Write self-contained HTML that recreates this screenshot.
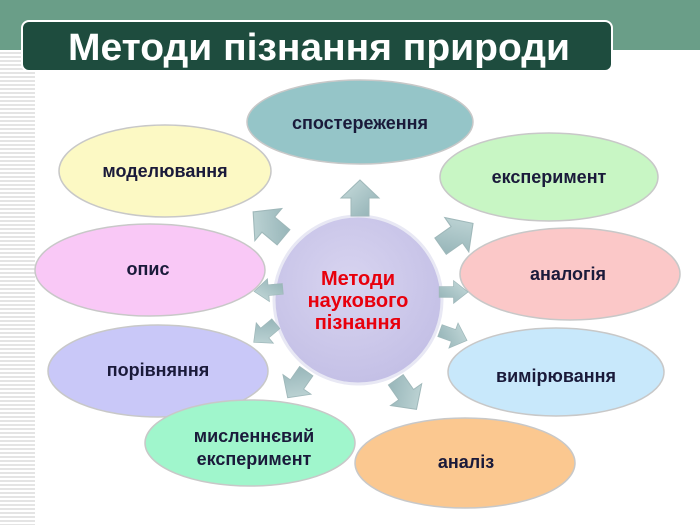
<!DOCTYPE html>
<html><head><meta charset="utf-8"><style>
html,body{margin:0;padding:0;background:#fff;}
svg{display:block;font-family:"Liberation Sans",sans-serif;font-weight:bold;}
</style></head><body>
<svg width="700" height="525" viewBox="0 0 700 525" xmlns="http://www.w3.org/2000/svg">
<defs>
<pattern id="st" width="35" height="4" patternUnits="userSpaceOnUse"><rect width="35" height="2" fill="#e4e4e4"/></pattern>
<linearGradient id="ag" x1="0" y1="0" x2="1" y2="1"><stop offset="0" stop-color="#c8dcdc"/><stop offset="1" stop-color="#90b0b4"/></linearGradient>
<radialGradient id="cg" cx="0.45" cy="0.4" r="0.6"><stop offset="0" stop-color="#d8d4f0"/><stop offset="1" stop-color="#c4c0e6"/></radialGradient>
<g id="ar"><polygon points="0,-20 19,-2 9,-2 9,16 -9,16 -9,-2 -19,-2" fill="url(#ag)" stroke="#9fb8ba" stroke-width="1"/></g>
</defs>
<rect x="0" y="0" width="700" height="50" fill="#6a9e88"/>
<rect x="0" y="50" width="35" height="475" fill="url(#st)"/>
<rect x="22" y="21" width="590" height="50" rx="7" fill="#1e4c3e" stroke="#ffffff" stroke-width="2"/>
<text x="68" y="60" font-size="38" fill="#fff" textLength="502" lengthAdjust="spacingAndGlyphs">Методи пізнання природи</text>

<g stroke="#c8c8c8" stroke-width="1.5">
<ellipse cx="360" cy="122" rx="113" ry="42" fill="#95c5c8"/>
<ellipse cx="165" cy="171" rx="106" ry="46" fill="#fcf9c4"/>
<ellipse cx="549" cy="177" rx="109" ry="44" fill="#c8f6c4"/>
<ellipse cx="150" cy="270" rx="115" ry="46" fill="#f9c8f6"/>
<ellipse cx="570" cy="274" rx="110" ry="46" fill="#fbc8c8"/>
<ellipse cx="158" cy="371" rx="110" ry="46" fill="#c9c8f8"/>
<ellipse cx="556" cy="372" rx="108" ry="44" fill="#c8e8fb"/>
<ellipse cx="250" cy="443" rx="105" ry="43" fill="#a0f6cc"/>
<ellipse cx="465" cy="463" rx="110" ry="45" fill="#fbc890"/>
</g>
<circle cx="358" cy="300" r="84" fill="url(#cg)" stroke="#e8e8f4" stroke-width="3"/>

<use href="#ar" transform="translate(360,200)"/>
<use href="#ar" transform="translate(270,226) rotate(-50) scale(1.1)"/>
<use href="#ar" transform="translate(270,290) rotate(-95) scale(0.6,0.8)"/>
<use href="#ar" transform="translate(266,332) rotate(-130) scale(0.7,0.8)"/>
<use href="#ar" transform="translate(298,383) rotate(-145) scale(0.9)"/>
<use href="#ar" transform="translate(405,393) rotate(145) scale(1)"/>
<use href="#ar" transform="translate(452,335) rotate(110) scale(0.7,0.8)"/>
<use href="#ar" transform="translate(452,292) rotate(90) scale(0.6,0.8)"/>
<use href="#ar" transform="translate(455,236) rotate(55) scale(1.1)"/>

<g font-size="18" fill="#1a1a3a" text-anchor="middle">
<text x="360" y="129">спостереження</text>
<text x="165" y="177">моделювання</text>
<text x="549" y="183">експеримент</text>
<text x="148" y="275">опис</text>
<text x="568" y="280">аналогія</text>
<text x="158" y="376">порівняння</text>
<text x="556" y="382">вимірювання</text>
<text x="254" y="442">мисленнєвий</text>
<text x="254" y="465">експеримент</text>
<text x="466" y="468">аналіз</text>
</g>
<g font-size="20" fill="#e8000c" text-anchor="middle">
<text x="358" y="285">Методи</text>
<text x="358" y="307">наукового</text>
<text x="358" y="329">пізнання</text>
</g>
</svg>
</body></html>
